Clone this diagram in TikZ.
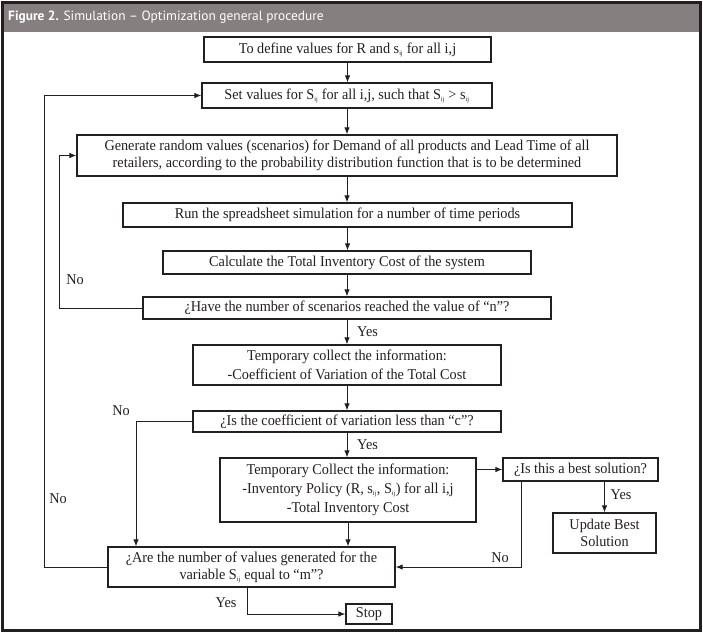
\documentclass[tikz,border=0pt]{standalone}
\usepackage{fontspec}
\setmainfont{Liberation Serif}[FakeStretch=0.95]
\newfontfamily\titlefont{PT Sans}
\usetikzlibrary{arrows.meta}
\definecolor{frame}{RGB}{35,31,32}
\definecolor{titlegray}{RGB}{134,127,127}
\newcommand{\sbij}{\textsubscript{\fontsize{6.5}{6.5}\selectfont ij}}
\begin{document}
\begin{tikzpicture}[x=1pt,y=-1pt,
 fbox/.style={draw=frame, line width=1.2pt, inner sep=0pt, align=center, font=\fontsize{15}{17}\selectfont, text=frame},
 conn/.style={draw=frame, line width=1pt},
 arr/.style={conn, -{Latex[length=7pt,width=5.5pt]}},
 lbl/.style={font=\fontsize{15}{17}\selectfont, text=frame, inner sep=0pt}]
\useasboundingbox (0,0) rectangle (703,633);
\fill[white] (0,0) rectangle (703,633);
\fill[titlegray] (2,2) rectangle (700,32);
\draw[frame, line width=3pt] (2,2) rectangle (700,630);
\node[anchor=west, text=white, font=\titlefont\fontsize{13.4}{15}\selectfont, inner sep=0pt] (title) at (8,17) {\textbf{Figure 2.} Simulation – Optimization general procedure};

\node[fbox, minimum width=287pt, minimum height=25pt] (def) at (347.5,49.5) {To define values for R and s\sbij{} for all i,j};
\node[fbox, minimum width=290pt, minimum height=25pt] (set) at (347,95.5) {Set values for S\sbij{} for all i,j, such that S\sbij{} > s\sbij};
\node[fbox, minimum width=540pt, minimum height=41pt] (gen) at (347,155.5) {Generate random values (scenarios) for Demand of all products and Lead Time of all\\retailers, according to the probability distribution function that is to be determined};
\node[fbox, minimum width=449pt, minimum height=24pt] (run) at (347.5,215) {Run the spreadsheet simulation for a number of time periods};
\node[fbox, minimum width=368pt, minimum height=23pt] (calc) at (347,262.5) {Calculate the Total Inventory Cost of the system};
\node[fbox, minimum width=408pt, minimum height=22pt] (have) at (347,308) {¿Have the number of scenarios reached the value of “n”?};
\node[fbox, minimum width=308pt, minimum height=40pt] (tempa) at (347,365) {Temporary collect the information:\\[2pt]-Coefficient of Variation of the Total Cost};
\node[fbox, minimum width=308pt, minimum height=21pt] (coef) at (347,421.5) {¿Is the coefficient of variation less than “c”?};
\node[fbox, minimum width=256pt, minimum height=64pt] (tempb) at (348,490) {Temporary Collect the information:\\[2pt]-Inventory Policy (R, s\sbij, S\sbij) for all i,j\\[2pt]-Total Inventory Cost};
\node[fbox, minimum width=155pt, minimum height=23pt] (best) at (580.5,469.5) {¿Is this a best solution?};
\node[fbox, minimum width=103pt, minimum height=40pt] (upd) at (604.5,533) {Update Best\\Solution};
\node[fbox, minimum width=287pt, minimum height=40pt] (are) at (251.5,567) {¿Are the number of values generated for the\\variable S\sbij{} equal to “m”?};
\node[fbox, minimum width=46pt, minimum height=20pt] (stop) at (369,614) {Stop};

\coordinate (lA) at (59,0);
\coordinate (lB) at (44,0);
\coordinate (lC) at (136,0);
\coordinate (lD) at (521,0);
\coordinate (lE) at (247,0);

\draw[arr] (def.south) -- (def.south |- set.north);
\draw[arr] (set.south) -- (set.south |- gen.north);
\draw[arr] (gen.south) -- (gen.south |- run.north);
\draw[arr] (run.south) -- (run.south |- calc.north);
\draw[arr] (calc.south) -- (calc.south |- have.north);
\draw[arr] (have.south) -- (have.south |- tempa.north);
\draw[arr] (tempa.south) -- (tempa.south |- coef.north);
\draw[arr] (coef.south) -- (coef.south |- tempb.north);
\draw[arr] (tempb.south) -- (tempb.south |- are.north);

\draw[arr] (have.west) -- (have.west -| lA) |- (gen.west);
\draw[arr] (are.west) -- (are.west -| lB) |- (set.west);
\draw[arr] (coef.west) -- (coef.west -| lC) -- (lC |- are.north);
\draw[arr] (best.west -| tempb.east) -- (best.west);
\draw[arr] (upd.north |- best.south) -- (upd.north);
\draw[arr] (lD |- best.south) |- (are.east);
\draw[arr] (lE |- are.south) |- (stop.west);

\node[lbl] (no1) at (75,280) {No};
\node[lbl] (no2) at (121,411) {No};
\node[lbl] (no3) at (58,499) {No};
\node[lbl] (no4) at (500,558) {No};
\node[lbl] (yes1) at (367.5,332) {Yes};
\node[lbl] (yes2) at (367.5,445) {Yes};
\node[lbl] (yes3) at (621,495) {Yes};
\node[lbl] (yes4) at (226,603) {Yes};
\end{tikzpicture}
\end{document}
